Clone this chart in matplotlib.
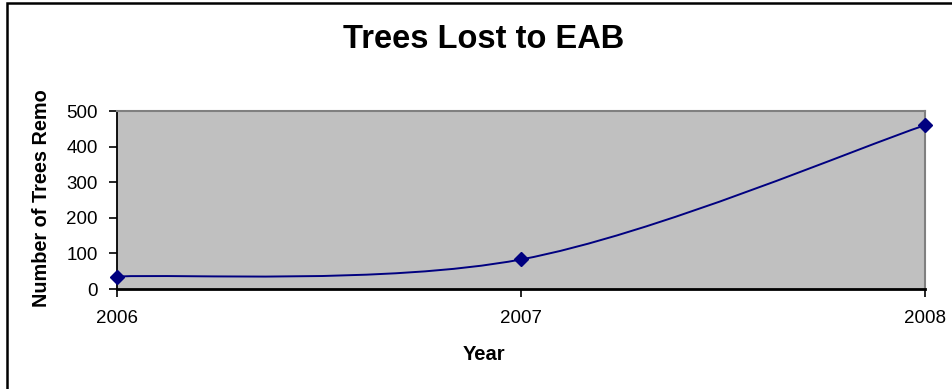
import numpy as np
import matplotlib
matplotlib.use('agg')
import matplotlib.pyplot as plt
from matplotlib.path import Path
from matplotlib.patches import PathPatch, Rectangle

plt.rcParams['font.family'] = 'Liberation Sans'

years = [2006, 2007, 2008]
trees_lost = [35, 83, 460]
y_ticks = [0, 100, 200, 300, 400, 500]

W, H = 953, 389


def fx(px):
    return px / W


def fy(py):
    return 1 - py / H


def smooth_path(xs, ys, tension=1.0 / 6):
    # excel style smoothed line: cubic bezier per segment
    pts = np.column_stack([xs, ys]).astype(float)
    n = len(pts)
    verts = [pts[0]]
    codes = [Path.MOVETO]
    for i in range(n - 1):
        p_prev = pts[i - 1] if i > 0 else pts[i]
        p_next2 = pts[i + 2] if i + 2 < n else pts[i + 1]
        c1 = pts[i] + (pts[i + 1] - p_prev) * tension
        c2 = pts[i + 1] - (p_next2 - pts[i]) * tension
        verts += [c1, c2, pts[i + 1]]
        codes += [Path.CURVE4] * 3
    return Path(verts, codes)


fig = plt.figure(figsize=(W / 100, H / 100), dpi=100)

# outer chart border (left and top visible)
fig.patches.append(Rectangle((fx(7), -0.1), 1.2, fy(3) + 0.1, transform=fig.transFigure,
                             fill=False, edgecolor='black', linewidth=1.8))

ax = fig.add_axes([fx(117), fy(289), fx(925) - fx(117), fy(111) - fy(289)])
ax.set_facecolor('#C0C0C0')

ax.add_patch(PathPatch(smooth_path(years, trees_lost), facecolor='none',
                       edgecolor='#000080', linewidth=1.4))
ax.plot(years, trees_lost, linestyle='none', marker='D', markersize=7,
        color='#000080', clip_on=False, zorder=5)

ax.set_xlim(years[0], years[-1])
ax.set_ylim(y_ticks[0], y_ticks[-1])
ax.set_xticks(years)
ax.set_yticks(y_ticks)
ax.tick_params(axis='both', direction='out', length=6, width=1.2, labelsize=13.5, color='black')
ax.tick_params(axis='y', pad=8)
ax.tick_params(axis='x', pad=9)

ax.spines['top'].set_color('#808080')
ax.spines['right'].set_color('#808080')
ax.spines['top'].set_linewidth(1.5)
ax.spines['right'].set_linewidth(1.5)
ax.spines['left'].set_color('black')
ax.spines['left'].set_linewidth(1.3)
ax.spines['bottom'].set_color('black')
ax.spines['bottom'].set_linewidth(2)

fig.text(fx(484), fy(40), 'Trees Lost to EAB', fontsize=23.5, fontweight='bold',
         ha='center', va='center')
fig.text(fx(484), fy(355), 'Year', fontsize=14.5, fontweight='bold',
         ha='center', va='center')
fig.text(fx(42), fy(307), 'Number of Trees Remo', fontsize=14.3, fontweight='bold',
         rotation=90, ha='center', va='bottom')

fig.savefig('out.png', dpi=100)
